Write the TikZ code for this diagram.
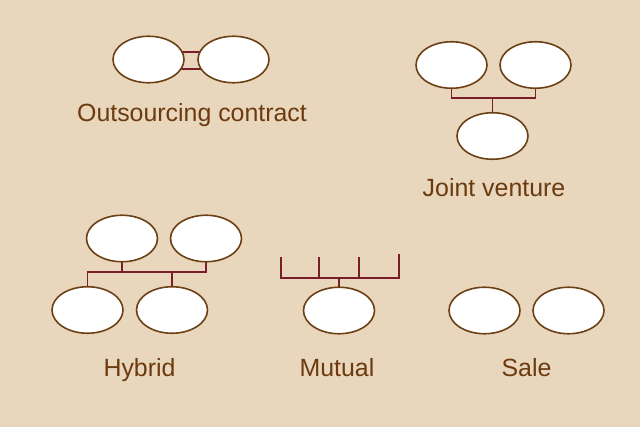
\documentclass[tikz,border=0pt]{standalone}
\usepackage{fontspec}
\setmainfont{Liberation Sans}
\usetikzlibrary{shapes.geometric}
\pgfdeclarelayer{bg}
\pgfdeclarelayer{links}
\pgfsetlayers{bg,links,main}
\definecolor{paper}{RGB}{232,215,189}
\definecolor{rim}{RGB}{108,64,20}
\definecolor{link}{RGB}{122,30,44}
\definecolor{caption}{RGB}{108,58,14}
\tikzset{
  party/.style={ellipse, draw=rim, fill=white, line width=1.6pt,
    minimum width=71pt, minimum height=46.5pt, inner sep=0pt},
  tie/.style={draw=link, line width=1.6pt},
  caption/.style={anchor=base, text=caption, inner sep=0pt,
    font=\fontsize{24.9}{28}\selectfont},
}
\begin{document}
\begin{tikzpicture}[x=1pt, y=-1pt]
\begin{pgfonlayer}{bg}
  \fill[paper] (0,0) rectangle (640,427);
\end{pgfonlayer}
\useasboundingbox (0,0) rectangle (640,427);

% Outsourcing contract
\node[party] (o1) at (148.5,59.5) {};
\node[party] (o2) at (233.5,59.5) {};
\node[caption] (ol) at (192,122) {Outsourcing contract};

% Joint venture
\node[party] (j1) at (451.5,65) {};
\node[party] (j2) at (535.5,65) {};
\node[party] (j3) at (492.5,136) {};
\node[caption] (jl) at (494,197) {Joint venture};

% Hybrid
\node[party] (h1) at (122,238.5) {};
\node[party] (h2) at (206,238.5) {};
\node[party] (h3) at (87.5,310) {};
\node[party] (h4) at (172,310) {};
\node[caption] (hl) at (139.5,377) {Hybrid};

% Mutual
\node[party] (m1) at (339,310.5) {};
\node[caption] (ml) at (337,377) {Mutual};

% Sale
\node[party] (s1) at (484.5,310.5) {};
\node[party] (s2) at (568.5,310.5) {};
\node[caption] (sl) at (526.5,377) {Sale};

\begin{pgfonlayer}{links}
  % outsourcing: two parallel ties
  \draw[tie] ([yshift=7.5pt]o1.center) -- ([yshift=7.5pt]o2.center);
  \draw[tie] ([yshift=-9.5pt]o1.center) -- ([yshift=-9.5pt]o2.center);

  % joint venture bus
  \coordinate (jb) at (492.5,98);
  \draw[tie] (j1.center) |- (jb) -| (j2.center);
  \draw[tie] (jb) -- (j3.center);

  % hybrid bus
  \coordinate (hb) at (0,272);
  \draw[tie] (h3.center) -- (h3 |- hb) -- (h2 |- hb) -- (h2.center);
  \draw[tie] (h1.center) -- (h1 |- hb);
  \draw[tie] (h4.center) -- (h4 |- hb);

  % mutual comb
  \coordinate (mt1) at (281,257);
  \coordinate (mt2) at (319,257);
  \coordinate (mt3) at (359,257);
  \coordinate (mt4) at (399,254);
  \coordinate (mb) at (0,278);
  \draw[tie] (mt1) -- (mt1 |- mb) -- (mt4 |- mb) -- (mt4);
  \draw[tie] (mt2) -- (mt2 |- mb);
  \draw[tie] (mt3) -- (mt3 |- mb);
  \draw[tie] (m1.center) -- (m1 |- mb);
\end{pgfonlayer}
\end{tikzpicture}
\end{document}
